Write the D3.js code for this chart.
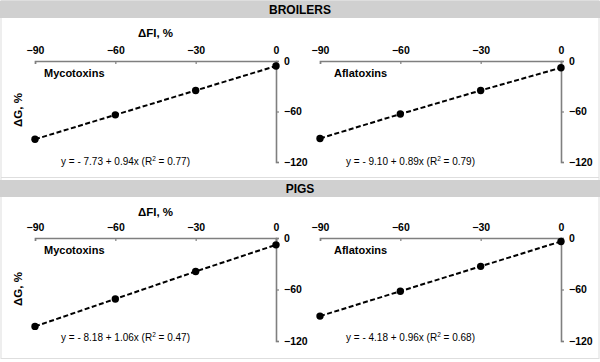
<!DOCTYPE html>
<html>
<head>
<meta charset="utf-8">
<script src="https://cdn.jsdelivr.net/npm/d3@7"></script>
<style>
  body { margin: 0; background: #fff; }
  svg { font-family: "Liberation Sans", Arial, sans-serif; }
</style>
</head>
<body>
<div id="my_dataviz"></div>
<script>
// Data
const sections = ["BROILERS", "PIGS"];
const toxins = ["Mycotoxins", "Aflatoxins"];
const feedIntake = [-90, -60, -30, 0];          // ΔFI, %
const broilerMyco = [-93, -64, -35, -6];        // ΔG, %
const broilerAfla = [-92, -63, -35, -8];
const pigMyco = [-103, -71, -39, -8];
const pigAfla = [-91, -62, -33, -4];
const equations = [
  ["y = - 7.73 + 0.94x (R", "2", " = 0.77)"],
  ["y = - 9.10 + 0.89x (R", "2", " = 0.79)"],
  ["y = - 8.18 + 1.06x (R", "2", " = 0.47)"],
  ["y = - 4.18 + 0.96x (R", "2", " = 0.68)"]
];
const xTicks = [-90, -60, -30, 0];
const yTicks = [0, -60, -120];

const series = [broilerMyco, broilerAfla, pigMyco, pigAfla];

const width = 600, height = 362;
const svg = d3.select("#my_dataviz")
  .append("svg")
    .attr("width", width)
    .attr("height", height);

// layout of the two sections
const sectionTop = [0, 179];
const barTop = [1, 180];
const yRangeTop = [61, 59];      // pixel offset of y = 0 inside section
const yRangeBot = [162, 162];    // pixel offset of y = -120
const eqBase = [165, 162];
const xRanges = [[35, 276], [320, 561]];
const axisColor = "#7f7f7f";

// outer frame
svg.append("rect")
    .attr("x", 1).attr("y", 0.5)
    .attr("width", width - 2).attr("height", 358)
    .attr("fill", "none")
    .attr("stroke", "#dedede");
svg.append("line")
    .attr("x1", 1).attr("x2", width - 1)
    .attr("y1", 177.5).attr("y2", 177.5)
    .attr("stroke", "#dedede");

sections.forEach((name, s) => {
  // grey header bar
  svg.append("rect")
      .attr("x", 0).attr("y", barTop[s])
      .attr("width", width).attr("height", 17)
      .attr("fill", "#d0d0d0");
  svg.append("text")
      .attr("x", width / 2).attr("y", barTop[s] + 13)
      .attr("text-anchor", "middle")
      .style("font-size", "12px")
      .style("font-weight", "bold")
      .text(name);

  toxins.forEach((tox, t) => {
    const idx = s * 2 + t;
    const values = series[idx];
    const top = sectionTop[s];

    const x = d3.scaleLinear().domain([-90, 0]).range(xRanges[t]);
    const y = d3.scaleLinear().domain([0, -120])
      .range([top + yRangeTop[s], top + yRangeBot[s]]);

    const g = svg.append("g");

    // top X axis
    const xAxis = g.append("g")
      .attr("transform", `translate(0,${y(0)})`)
      .call(d3.axisTop(x).tickValues(xTicks).tickSizeInner(-3).tickSizeOuter(-3).tickPadding(7));
    // right Y axis
    const yAxis = g.append("g")
      .attr("transform", `translate(${x(0)},0)`)
      .call(d3.axisRight(y).tickValues(yTicks).tickSizeInner(3).tickSizeOuter(3).tickPadding(5));

    [xAxis, yAxis].forEach(a => {
      a.select(".domain").attr("stroke", axisColor).attr("stroke-width", 1.6);
      a.selectAll(".tick line").attr("stroke", axisColor).attr("stroke-width", 1.2);
      a.selectAll(".tick text")
        .attr("fill", "#000")
        .style("font-size", "10.5px")
        .style("font-weight", "bold")
        .style("font-family", "'Liberation Sans', Arial, sans-serif");
    });

    // dashed line through the points
    const line = d3.line()
      .x((d, i) => x(feedIntake[i]))
      .y(d => y(d));
    g.append("path")
      .datum(values)
      .attr("d", line)
      .attr("fill", "none")
      .attr("stroke", "#000")
      .attr("stroke-width", 2)
      .attr("stroke-dasharray", "5,2.5");

    g.selectAll("circle")
      .data(values)
      .join("circle")
        .attr("cx", (d, i) => x(feedIntake[i]))
        .attr("cy", d => y(d))
        .attr("r", 3.7)
        .attr("fill", "#000");

    // toxin label
    g.append("text")
      .attr("x", x(-90) + (t === 0 ? 9 : 14))
      .attr("y", y(0) + 16)
      .style("font-size", "11px")
      .style("font-weight", "bold")
      .text(tox);

    // regression equation
    const eq = g.append("text")
      .attr("x", x(-45) - 30)
      .attr("y", top + eqBase[s])
      .attr("text-anchor", "middle")
      .style("font-size", "10px");
    eq.append("tspan").text(equations[idx][0]);
    eq.append("tspan").attr("dy", -4).style("font-size", "6.5px").text(equations[idx][1]);
    eq.append("tspan").attr("dy", 4).text(equations[idx][2]);

    // axis titles only on left panels
    if (t === 0) {
      g.append("text")
        .attr("x", x(-45))
        .attr("y", top + 37)
        .attr("text-anchor", "middle")
        .style("font-size", "11.5px")
        .style("font-weight", "bold")
        .text("ΔFI, %");
      g.append("text")
        .attr("transform", `translate(22,${top + 110}) rotate(-90)`)
        .attr("text-anchor", "middle")
        .style("font-size", "11.5px")
        .style("font-weight", "bold")
        .text("ΔG, %");
    }
  });
});
</script>
</body>
</html>
